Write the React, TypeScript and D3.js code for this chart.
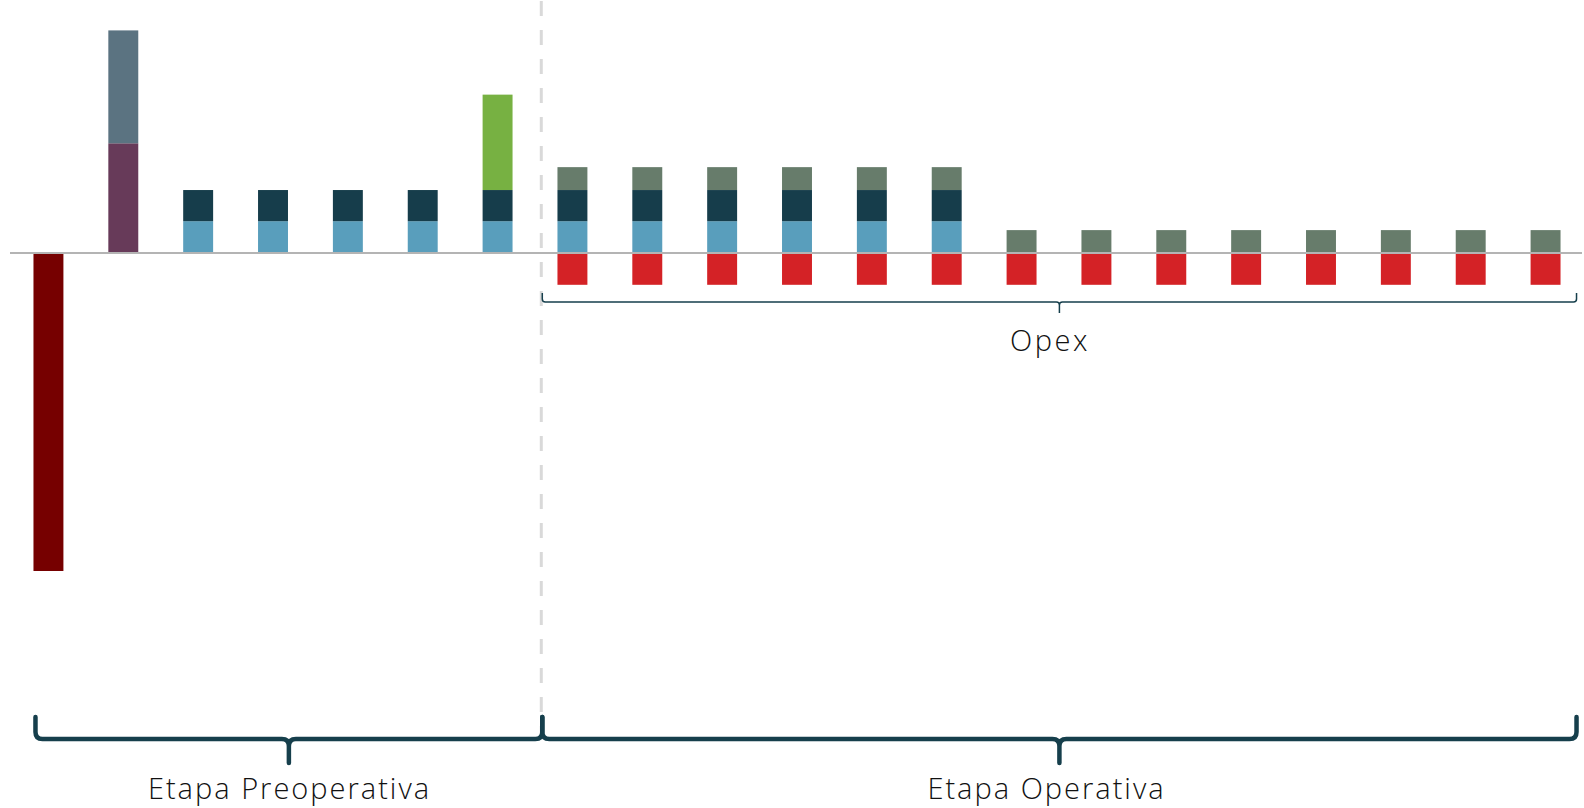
import * as d3 from "d3";

const periods = [
  "Año 0", "Año 1", "Año 2", "Año 3", "Año 4", "Año 5", "Año 6",
  "Año 7", "Año 8", "Año 9", "Año 10", "Año 11", "Año 12", "Año 13",
  "Año 14", "Año 15", "Año 16", "Año 17", "Año 18", "Año 19", "Año 20",
];

// valores en millones (negativo = salida de caja)
const inversion = [-100, 0, 0, 0, 0, 0, 0, 0, 0, 0, 0, 0, 0, 0, 0, 0, 0, 0, 0, 0, 0];
const deuda = [0, 34.5, 0, 0, 0, 0, 0, 0, 0, 0, 0, 0, 0, 0, 0, 0, 0, 0, 0, 0, 0];
const aporte = [0, 35.5, 0, 0, 0, 0, 0, 0, 0, 0, 0, 0, 0, 0, 0, 0, 0, 0, 0, 0, 0];
const ingresos = [0, 0, 10, 10, 10, 10, 10, 10, 10, 10, 10, 10, 10, 0, 0, 0, 0, 0, 0, 0, 0];
const intereses = [0, 0, 9.8, 9.8, 9.8, 9.8, 9.8, 9.8, 9.8, 9.8, 9.8, 9.8, 9.8, 0, 0, 0, 0, 0, 0, 0, 0];
const residual = [0, 0, 0, 0, 0, 0, 30, 0, 0, 0, 0, 0, 0, 0, 0, 0, 0, 0, 0, 0, 0];
const servicios = [0, 0, 0, 0, 0, 0, 0, 7.2, 7.2, 7.2, 7.2, 7.2, 7.2, 7.2, 7.2, 7.2, 7.2, 7.2, 7.2, 7.2, 7.2];
const opex = [0, 0, 0, 0, 0, 0, 0, -10, -10, -10, -10, -10, -10, -10, -10, -10, -10, -10, -10, -10, -10];

const keys = ["inversion", "deuda", "aporte", "ingresos", "intereses", "residual", "servicios", "opex"];
const colors: Record<string, string> = {
  inversion: "#760000",
  deuda: "#673a59",
  aporte: "#5b7381",
  ingresos: "#599ebc",
  intereses: "#163d4b",
  residual: "#77b142",
  servicios: "#677c6b",
  opex: "#d42226",
};

const braceColor = "#163f4c";
const font = "'Open Sans', sans-serif";

function brace(x0: number, x1: number, yl: number, rise: number, tick: number, r: number) {
  const xm = (x0 + x1) / 2;
  const p = d3.path();
  p.moveTo(x0, yl - rise);
  p.lineTo(x0, yl - r);
  p.quadraticCurveTo(x0, yl, x0 + r, yl);
  p.lineTo(xm - r, yl);
  p.quadraticCurveTo(xm, yl, xm, yl + r);
  p.lineTo(xm, yl + tick);
  p.moveTo(xm, yl + r);
  p.quadraticCurveTo(xm, yl, xm + r, yl);
  p.lineTo(x1 - r, yl);
  p.quadraticCurveTo(x1, yl, x1, yl - r);
  p.lineTo(x1, yl - rise);
  return p.toString();
}

export default function App() {
  const width = 1584;
  const height = 808;

  const x = d3.scaleBand(periods, [18.5, 1575.5]).paddingInner(0.6).paddingOuter(0.2);
  const y = d3.scaleLinear([-100, 0], [571, 253]);

  const rows = periods.map((p, i) => ({
    period: p,
    inversion: inversion[i],
    deuda: deuda[i],
    aporte: aporte[i],
    ingresos: ingresos[i],
    intereses: intereses[i],
    residual: residual[i],
    servicios: servicios[i],
    opex: opex[i],
  }));

  const layers = d3.stack<any>().keys(keys).offset(d3.stackOffsetDiverging)(rows);

  const bw = x.bandwidth();
  const divider = x(periods[7])! - (x.step() - bw) * 0.36;
  const lastRight = x(periods[periods.length - 1])! + bw + 16;
  const preStart = x(periods[0])! + 2;
  const y0 = y(0);

  const label = {
    textAnchor: "middle" as const,
    fontFamily: font,
    fontWeight: 300,
    fontSize: 29,
    letterSpacing: 2,
    fill: "#111",
  };

  return (
    <svg
      width={width}
      height={height}
      style={{ position: "absolute", left: 0, top: 0, background: "#fff" }}
    >
      <line
        x1={divider}
        x2={divider}
        y1={1}
        y2={735}
        stroke="#d9d9d9"
        strokeWidth={3}
        strokeDasharray="15 14"
      />
      {layers.map((layer) => (
        <g key={layer.key} fill={colors[layer.key]}>
          {layer.map((d, i) =>
            d[1] - d[0] === 0 ? null : (
              <rect
                key={i}
                x={x(periods[i])}
                y={y(d[1])}
                width={bw}
                height={y(d[0]) - y(d[1])}
              />
            )
          )}
        </g>
      ))}
      <line x1={x.range()[0] - 8.5} x2={x.range()[1] + 6.5} y1={y0} y2={y0} stroke="#b4b4b4" strokeWidth={2} />

      <path
        d={brace(divider + 1, lastRight, y0 + 49, 9, 11, 3)}
        fill="none"
        stroke={braceColor}
        strokeWidth={1.5}
      />
      <text x={1050} y={351} {...label} letterSpacing={2.6}>
        Opex
      </text>

      <path
        d={brace(preStart, divider + 1, 739, 22, 24, 7)}
        fill="none"
        stroke={braceColor}
        strokeWidth={4.5}
        strokeLinecap="round"
      />
      <path
        d={brace(divider + 1, lastRight, 739, 22, 24, 7)}
        fill="none"
        stroke={braceColor}
        strokeWidth={4.5}
        strokeLinecap="round"
      />
      <text x={289.5} y={799} {...label}>
        Etapa Preoperativa
      </text>
      <text x={1046.5} y={799} {...label}>
        Etapa Operativa
      </text>
    </svg>
  );
}
